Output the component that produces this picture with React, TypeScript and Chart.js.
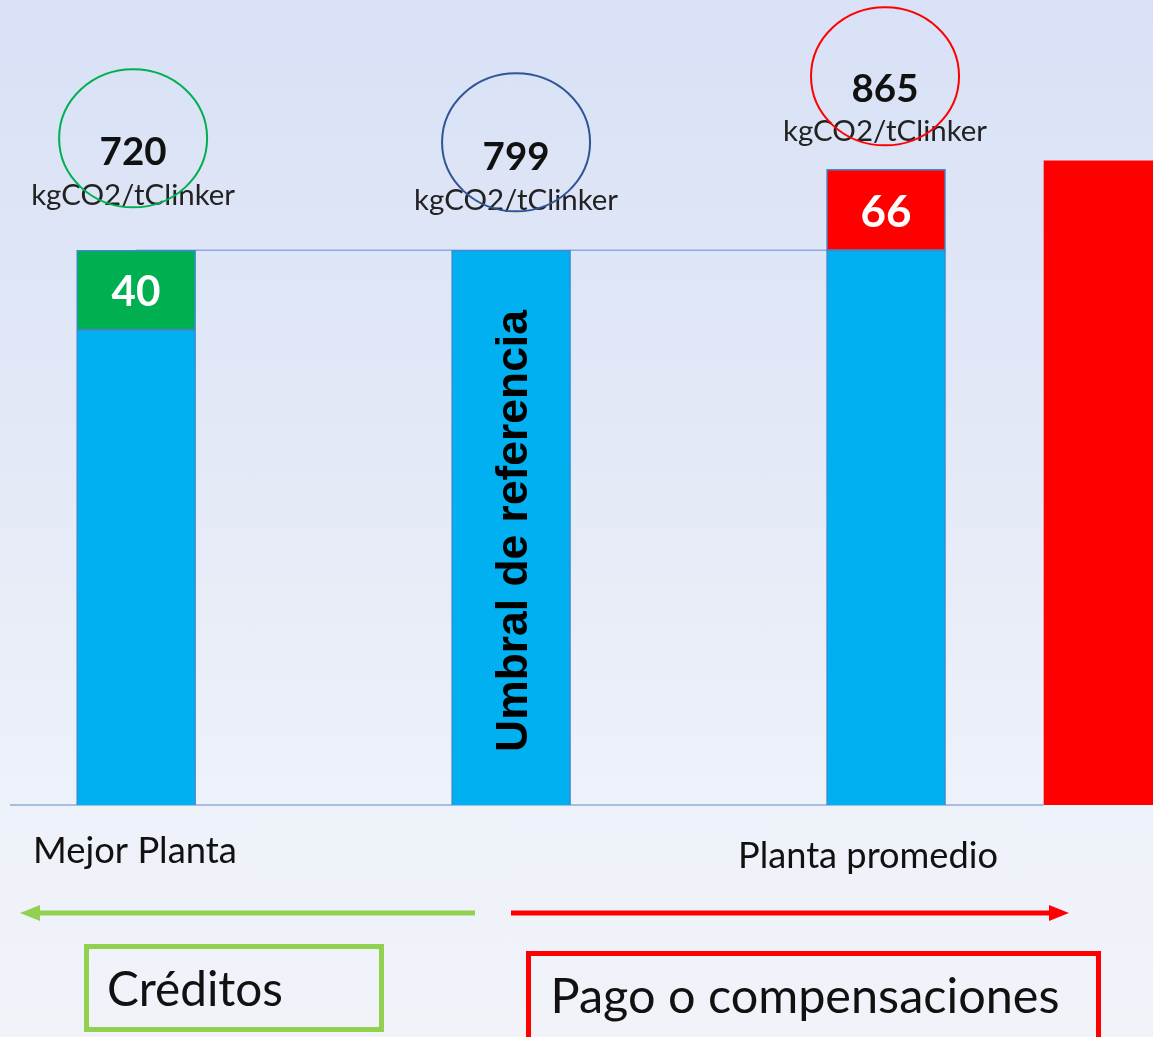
import React, { useEffect, useRef } from "react";
import { Chart, registerables } from "chart.js";

Chart.register(...registerables);

// ---- data ----
const categories = ["Mejor Planta", "", "Planta promedio", ""];
const xPositions = [0, 1, 2, 2.58];
const blueValues = [734, 799, 799, null];
const creditValues = [65, null, null, null];
const excessValues = [null, null, 66, null];
const paymentBar = [null, null, null, 872];
const totalLabels = ["720", "799", "865"];
const unitLabel = "kgCO2/tClinker";
const segmentLabels = ["40", "", "66"];
const threshold = 799;
const verticalLabel = "Umbral de referencia";
const creditText = "Créditos";
const paymentText = "Pago o compensaciones";

const CAL = "Lato, 'Open Sans', sans-serif";
const ARIAL = "'Liberation Sans', Arial, sans-serif";

function fitFont(ctx: CanvasRenderingContext2D, text: string, width: number, weight: string, family: string) {
  ctx.font = `${weight} 100px ${family}`;
  const w = ctx.measureText(text).width;
  const size = (100 * width) / w;
  ctx.font = `${weight} ${size}px ${family}`;
  return size;
}

function drawText(ctx: CanvasRenderingContext2D, text: string, cx: number, baseline: number, width: number, weight: string, family: string, color: string) {
  fitFont(ctx, text, width, weight, family);
  ctx.fillStyle = color;
  ctx.textAlign = "center";
  ctx.textBaseline = "alphabetic";
  ctx.fillText(text, cx, baseline);
}

const pts = (arr: (number | null)[]) => arr.map((v, i) => ({ x: xPositions[i], y: v }));

const overlay = {
  id: "overlay",
  beforeDatasetsDraw(chart: any) {
    const { ctx, scales, chartArea } = chart;
    const x = scales.x, y = scales.y;
    ctx.save();
    ctx.strokeStyle = "#8eaadb";
    ctx.lineWidth = 1.5;
    // threshold line
    const ty = y.getPixelForValue(threshold);
    ctx.beginPath();
    ctx.moveTo(x.getPixelForValue(xPositions[0]), ty);
    ctx.lineTo(x.getPixelForValue(xPositions[2]), ty);
    ctx.stroke();
    // baseline
    ctx.beginPath();
    ctx.moveTo(10, chartArea.bottom);
    ctx.lineTo(x.getPixelForValue(xPositions[3]) - 60, chartArea.bottom);
    ctx.stroke();
    ctx.restore();
  },
  afterDatasetsDraw(chart: any) {
    const { ctx, scales } = chart;
    const x = scales.x, y = scales.y;
    ctx.save();
    const tops = [
      y.getPixelForValue(blueValues[0]! + creditValues[0]!),
      y.getPixelForValue(blueValues[1]!),
      y.getPixelForValue(blueValues[2]! + excessValues[2]!),
    ];
    const valueOff = [-85, -80, -67];
    const unitOff = [-45, -40, -28];
    const circleColors = ["#00b050", "#2f5597", "#ff0000"];
    const circleOff = [-112, -108, -93];
    const cxOff = [-2, 6, 0];
    for (let i = 0; i < 3; i++) {
      const cx = x.getPixelForValue(xPositions[i]);
      drawText(ctx, totalLabels[i], cx + cxOff[i] - 1, tops[i] + valueOff[i], 67, "bold", CAL, "#111");
      drawText(ctx, unitLabel, cx + cxOff[i] - 1, tops[i] + unitOff[i], 204, "normal", CAL, "#222");
      ctx.beginPath();
      ctx.strokeStyle = circleColors[i];
      ctx.lineWidth = 2;
      ctx.ellipse(cx + cxOff[i] - 1, tops[i] + circleOff[i], 74, 69, 0, 0, Math.PI * 2);
      ctx.stroke();
    }
    // segment labels
    const greenMid = y.getPixelForValue(blueValues[0]! + creditValues[0]! / 2);
    drawText(ctx, segmentLabels[0], x.getPixelForValue(xPositions[0]), greenMid + 16, 49, "bold", CAL, "#ffffff");
    const redMid = y.getPixelForValue(blueValues[2]! + excessValues[2]! / 2);
    drawText(ctx, segmentLabels[2], x.getPixelForValue(xPositions[2]), redMid + 17, 51, "bold", CAL, "#ffffff");
    // vertical label
    ctx.save();
    const vx = x.getPixelForValue(xPositions[1]);
    ctx.translate(vx + 16, 531);
    ctx.rotate(-Math.PI / 2);
    drawText(ctx, verticalLabel, 0, 0, 442, "bold", ARIAL, "#000");
    ctx.restore();
    // category labels
    drawText(ctx, categories[0], 135, 863, 204, "normal", CAL, "#111");
    drawText(ctx, categories[2], 868, 868, 260, "normal", CAL, "#111");
    // arrows
    ctx.lineWidth = 5;
    ctx.strokeStyle = "#92d050";
    ctx.fillStyle = "#92d050";
    ctx.beginPath();
    ctx.moveTo(475, 913);
    ctx.lineTo(36, 913);
    ctx.stroke();
    ctx.beginPath();
    ctx.moveTo(20, 913);
    ctx.lineTo(40, 905);
    ctx.lineTo(40, 921);
    ctx.closePath();
    ctx.fill();
    ctx.strokeStyle = "#ff0000";
    ctx.fillStyle = "#ff0000";
    ctx.beginPath();
    ctx.moveTo(511, 913);
    ctx.lineTo(1052, 913);
    ctx.stroke();
    ctx.beginPath();
    ctx.moveTo(1069, 913);
    ctx.lineTo(1049, 905);
    ctx.lineTo(1049, 921);
    ctx.closePath();
    ctx.fill();
    // boxes
    ctx.lineWidth = 5;
    ctx.strokeStyle = "#92d050";
    ctx.strokeRect(86.5, 946.5, 295, 83);
    drawText(ctx, creditText, 195, 1006, 176, "normal", CAL, "#111");
    ctx.strokeStyle = "#ff0000";
    ctx.strokeRect(528.5, 953.5, 570, 90);
    drawText(ctx, paymentText, 805, 1013, 509, "normal", CAL, "#111");
    ctx.restore();
  },
};

export default function App() {
  const ref = useRef<HTMLCanvasElement | null>(null);
  useEffect(() => {
    document.body.style.margin = "0";
    const canvas = ref.current!;
    const border = "#3a8bd0";
    const chart = new Chart(canvas, {
      type: "bar",
      data: {
        datasets: [
          { label: "base", data: pts(blueValues) as any, backgroundColor: "#00b0f0", borderColor: border, borderWidth: 1.5, borderSkipped: false },
          { label: "créditos", data: pts(creditValues) as any, backgroundColor: "#00b050", borderColor: border, borderWidth: 1.5, borderSkipped: false },
          { label: "exceso", data: pts(excessValues) as any, backgroundColor: "#ff0000", borderColor: border, borderWidth: 1.5, borderSkipped: false },
          { label: "pago", data: pts(paymentBar) as any, backgroundColor: "#ff0000", borderWidth: 0 },
        ],
      },
      options: {
        animation: false,
        responsive: false,
        maintainAspectRatio: false,
        layout: { padding: { top: 0, left: 0, right: 0, bottom: 232 } },
        datasets: { bar: { barThickness: 119 } } as any,
        plugins: { legend: { display: false }, tooltip: { enabled: false } },
        scales: {
          x: { type: "linear", min: -0.363, max: 2.712, display: false, stacked: true, offset: false } as any,
          y: { min: 347, max: 1003, display: false, stacked: true },
        },
      },
      plugins: [overlay],
    });
    return () => chart.destroy();
  }, []);
  return (
    <div
      style={{
        width: 1153,
        height: 1037,
        overflow: "hidden",
        background: "linear-gradient(180deg, #d8e1f6 0%, #e2e8f6 40%, #edf1f9 75%, #f1f3f9 100%)",
      }}
    >
      <canvas ref={ref} width={1153} height={1037} style={{ display: "block" }} />
    </div>
  );
}
